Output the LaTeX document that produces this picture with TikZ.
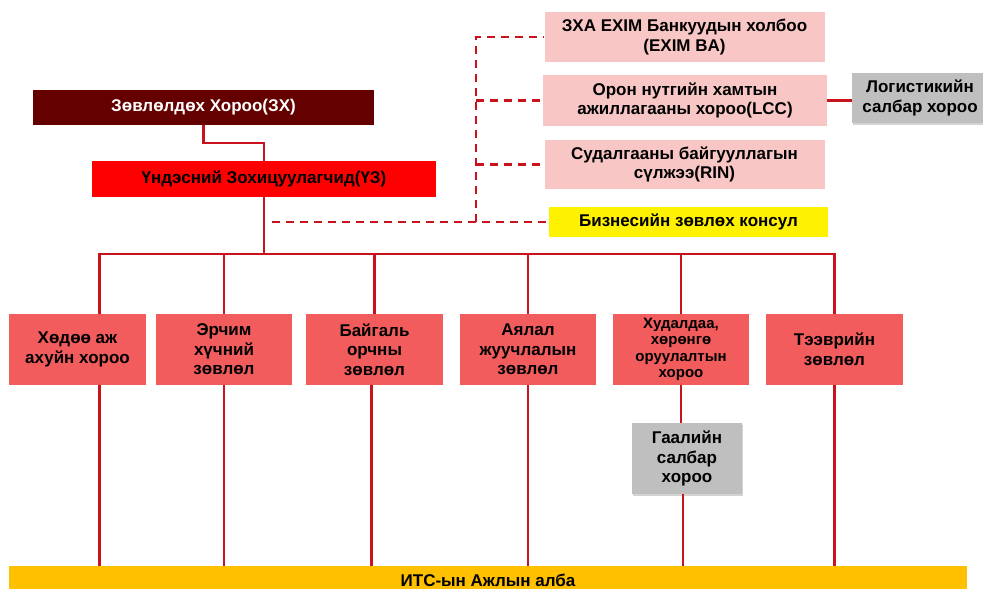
\documentclass[tikz,border=0pt]{standalone}
\usepackage{fontspec}
\setmainfont{Liberation Sans}
\usetikzlibrary{shadows}

\definecolor{councildark}{RGB}{100,0,0}
\definecolor{regred}{RGB}{255,0,0}
\definecolor{commred}{RGB}{242,92,92}
\definecolor{partnerpink}{RGB}{249,198,198}
\definecolor{subgray}{RGB}{191,191,191}
\definecolor{barorange}{RGB}{255,192,0}
\definecolor{linkred}{RGB}{200,18,28}

\begin{document}
\begin{tikzpicture}[x=1pt, y=-1pt,
                    every node/.style={rectangle, align=center, inner sep=2pt, font=\bfseries\fontsize{17}{19.5}\selectfont},
                    comm/.style={fill=commred, minimum width=136pt, minimum height=71pt},
                    partner/.style={fill=partnerpink, minimum width=280pt},
                    sub/.style={fill=subgray, drop shadow={opacity=0.35, shadow xshift=1pt, shadow yshift=-2pt}},
                    link/.style={draw=linkred, line width=2.4pt},
                    dashlink/.style={link, dash pattern=on 8pt off 6pt}]
    \useasboundingbox (0,0) rectangle (983,589);
    % Top nodes
    \node[fill=councildark, text=white, minimum width=341pt, minimum height=35pt] (zx) at (203.5,107.5) {Зөвлөлдөх Хороо(ЗХ)};
    \node[fill=regred, minimum width=344pt, minimum height=36pt] (yz) at (264,179) {Үндэсний Зохицуулагчид(ҮЗ)};
    % Partners on the right
    \node[partner, minimum height=50pt] (exim) at (684.5,37) {ЗХА EXIM Банкуудын холбоо\\(EXIM BA)};
    \node[partner, minimum width=284pt, minimum height=51pt] (lcc) at (685,100.5) {Орон нутгийн хамтын\\ажиллагааны хороо(LCC)};
    \node[partner, minimum height=49pt] (rin) at (684.5,164.5) {Судалгааны байгууллагын\\сүлжээ(RIN)};
    \node[fill=yellow, minimum width=279pt, minimum height=30pt] (biz) at (688.5,222) {Бизнесийн зөвлөх консул};
    \node[sub, minimum width=136pt, minimum height=50pt] (logis) at (920,98) {Логистикийн\\салбар хороо};
    % Committees and councils
    \node[comm, minimum width=137pt] (farm) at (77.5,349.5) {Хөдөө аж\\ахуйн хороо};
    \node[comm] (energy) at (224,349.5) {Эрчим\\хүчний\\зөвлөл};
    \node[comm, minimum width=137pt] (envir) at (374.5,349.5) {Байгаль\\орчны\\зөвлөл};
    \node[comm] (tour) at (528,349.5) {Аялал\\жуучлалын\\зөвлөл};
    \node[comm, font=\bfseries\fontsize{15}{16.5}\selectfont] (trade) at (681,349.5) {Худалдаа,\\хөрөнгө\\оруулалтын\\хороо};
    \node[comm, minimum width=137pt] (trans) at (834.5,349.5) {Тээврийн\\зөвлөл};
    \node[sub, minimum width=110pt, minimum height=71pt] (customs) at (687,458.5) {Гаалийн\\салбар\\хороо};
    % Secretariat bar
    \node[fill=barorange, minimum width=958pt, minimum height=28pt] (itc) at (488,580) {ИТС-ын Ажлын алба};

    \coordinate (bus) at (264,254);
    \coordinate (dashstart) at (272,222);
    \coordinate (trunk) at (476,222);

    \draw[link] (zx.south) -- (zx.south |- 0,143) -| (yz.north);
    \draw[link] (yz.south) -- (bus);
    \draw[link] ([xshift=22pt]farm.north) |- (trans.north |- bus) -- (trans.north);
    \draw[link] (energy.north) -- (energy.north |- bus);
    \draw[link] (envir.north) -- (envir.north |- bus);
    \draw[link] (tour.north) -- (tour.north |- bus);
    \draw[link] (trade.north) -- (trade.north |- bus);
    \draw[link] ([xshift=22pt]farm.south) -- ([xshift=22pt]farm.south |- itc.north);
    \draw[link] (energy.south) -- (energy.south |- itc.north);
    \draw[link] ([xshift=-3pt]envir.south) -- ([xshift=-3pt]envir.south |- itc.north);
    \draw[link] (tour.south) -- (tour.south |- itc.north);
    \draw[link] (trade.south) -- (trade.south |- customs.north);
    \draw[link] ([xshift=-4pt]customs.south) -- ([xshift=-4pt]customs.south |- itc.north);
    \draw[link] (trans.south) -- (trans.south |- itc.north);
    \draw[link] (lcc.east) -- (lcc.east -| logis.west);
    % Dashed links to partners
    \draw[dashlink] (dashstart) -- (biz.west);
    \draw[dashlink] (trunk) -- (trunk |- exim.west) -- (exim.west);
    \draw[dashlink] (trunk |- lcc.west) -- (lcc.west);
    \draw[dashlink] (trunk |- rin.west) -- (rin.west);
\end{tikzpicture}
\end{document}
